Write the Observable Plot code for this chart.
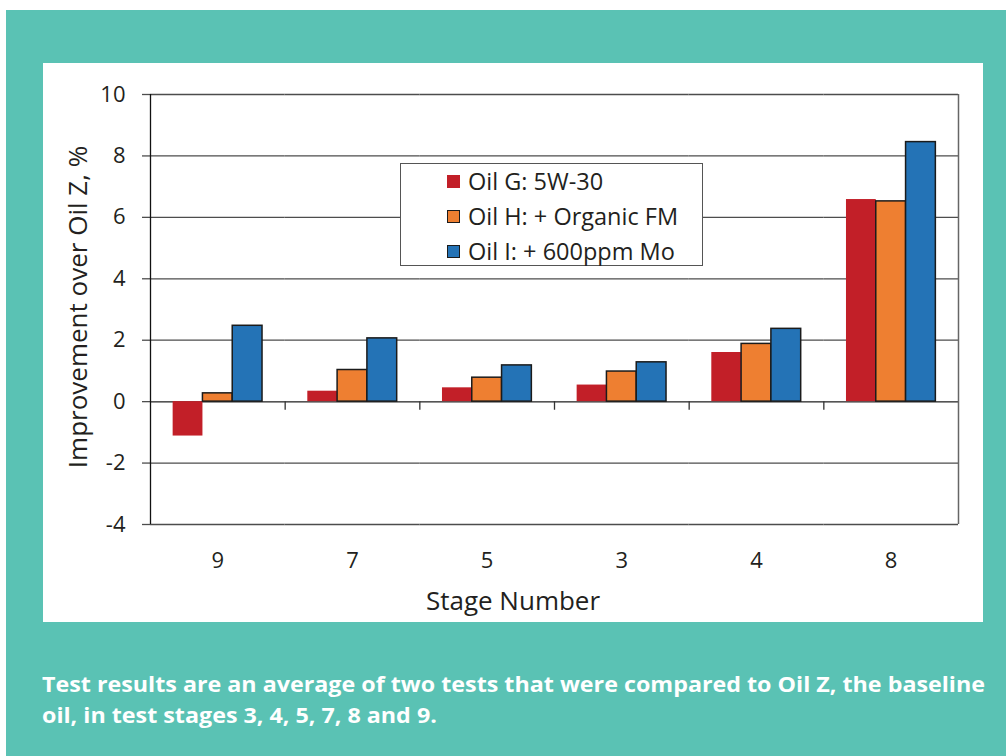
<!DOCTYPE html>
<html><head><meta charset="utf-8">
<script src="https://cdn.jsdelivr.net/npm/d3@7"></script>
<script src="https://cdn.jsdelivr.net/npm/@observablehq/plot@0.6"></script>
<style>
body{margin:0;background:#fff;}
#wrap{position:relative;width:1006px;height:756px;overflow:hidden;font-family:"Open Sans",sans-serif;color:#231f20;}
#teal{position:absolute;left:6px;top:10px;right:0;bottom:0;background:#5ac2b4;}
#panel{position:absolute;left:43px;top:63px;width:940px;height:559px;background:#fff;}
#chart{position:absolute;left:0;top:0;}
#ylabel{position:absolute;left:77px;top:307px;transform:translate(-50%,-50%) rotate(-90deg);font-size:26px;line-height:1;white-space:nowrap;}
#xlabel{position:absolute;left:513px;top:587px;transform:translateX(-50%);font-size:26px;line-height:1;white-space:nowrap;}
#legend{position:absolute;left:400px;top:163px;width:303px;height:103px;box-sizing:border-box;border:1.5px solid #555;background:#fff;}
.lrow{position:absolute;left:0;font-size:23.5px;line-height:1;white-space:nowrap;}
.sw{position:absolute;width:13px;height:13px;box-sizing:border-box;}
.lt{position:absolute;}
#caption{position:absolute;left:42px;top:668px;font-family:"Open Sans",sans-serif;font-weight:700;font-size:22px;line-height:31px;color:#fff;white-space:nowrap;transform-origin:0 0;}
#caption span{display:inline-block;}
</style></head>
<body>
<div id="wrap">
  <div id="teal"></div>
  <div id="panel"></div>
  <div id="chart"></div>
  <div id="ylabel">Improvement over Oil Z, %</div>
  <div id="xlabel">Stage Number</div>
  <div id="legend"></div>
  <div id="caption"><span id="cap1">Test results are an average of two tests that were compared to Oil Z, the baseline</span><br><span>oil, in test stages 3, 4, 5, 7, 8 and 9.</span></div>
</div>
<script>
const stages = ["9", "7", "5", "3", "4", "8"];
const oils = ["Oil G: 5W-30", "Oil H: + Organic FM", "Oil I: + 600ppm Mo"];
const oilG = [-1.12, 0.34, 0.45, 0.54, 1.60, 6.58];
const oilH = [0.27, 1.03, 0.78, 0.98, 1.88, 6.52];
const oilI = [2.47, 2.06, 1.18, 1.28, 2.37, 8.45];
const colors = ["#c21f28", "#ee7f31", "#2473b6"];
const yTicks = [-4, -2, 0, 2, 4, 6, 8, 10];

const series = [oilG, oilH, oilI];
const rows = [];
stages.forEach((s, i) => series.forEach((vals, k) => rows.push({stage: s, oil: oils[k], value: vals[i]})));

const W = 1006, ML = 150, MR = 48;
const padO = 0.76;
const facetW = (W - ML - MR) / stages.length;
const step = facetW / (oils.length + 2 * padO);
const edge = padO * step + step / 2;

const chart = Plot.plot({
  width: W, height: 640,
  marginLeft: ML, marginRight: MR, marginTop: 94, marginBottom: 116,
  style: {background: "transparent", fontFamily: "Open Sans, sans-serif", fontSize: "22px", color: "#231f20"},
  fx: {domain: stages, padding: 0, round: false, label: null},
  x: {domain: oils, paddingInner: 0, paddingOuter: padO, round: false, axis: null},
  y: {domain: [-4, 10]},
  color: {domain: oils, range: colors},
  marks: [
    Plot.gridY(yTicks, {stroke: "#4d4d4d", strokeOpacity: 1, strokeWidth: 1.3}),
    Plot.axisY(yTicks, {tickSize: 8, tickPadding: 17, stroke: "#4d4d4d", strokeWidth: 1.3, label: null, fontSize: 22, tickFormat: d => String(d)}),
    Plot.axisFx({anchor: "bottom", tickSize: 0, tickPadding: 28, label: null, fontSize: 22}),
    Plot.ruleY([0], {stroke: "#555", strokeWidth: 1.5}),
    Plot.barY(rows.filter(d => d.oil === oils[0]), {fx: "stage", x: "oil", y: "value", fill: "oil"}),
    Plot.barY(rows.filter(d => d.oil !== oils[0]), {fx: "stage", x: "oil", y: "value", fill: "oil", stroke: "#1b1b1b", strokeWidth: 1.5}),
    Plot.ruleX(stages.slice(1), {fx: d => d, x: () => oils[0], dx: -edge, y1: 0, y2: -0.28, stroke: "#333", strokeWidth: 1.3}),
    Plot.ruleX([stages[0]], {fx: d => d, x: () => oils[0], dx: -edge, y1: -4, y2: 10, stroke: "#111", strokeWidth: 1.3}),
    Plot.ruleX([stages[stages.length - 1]], {fx: d => d, x: () => oils[oils.length - 1], dx: edge, y1: -4, y2: 10, stroke: "#666", strokeWidth: 1.5})
  ]
});
document.getElementById("chart").appendChild(chart);

const legend = document.getElementById("legend");
const rowTops = [6, 41, 75.5];
oils.forEach((o, k) => {
  const r = document.createElement("div");
  r.className = "lrow";
  r.style.top = rowTops[k] + "px";
  const sw = document.createElement("div");
  sw.className = "sw";
  sw.style.left = "46px"; sw.style.top = "5px";
  sw.style.background = colors[k];
  if (k > 0) sw.style.border = "1.5px solid #1b1b1b";
  const t = document.createElement("div");
  t.className = "lt";
  t.style.left = "67px"; t.style.top = "0px";
  t.textContent = o;
  r.appendChild(sw); r.appendChild(t);
  legend.appendChild(r);
});

// fit caption's first line to the reference width
const cap = document.getElementById("caption");
const w1 = document.getElementById("cap1").getBoundingClientRect().width;
cap.style.transform = "scaleX(" + (943 / w1) + ")";
</script>
</body></html>
